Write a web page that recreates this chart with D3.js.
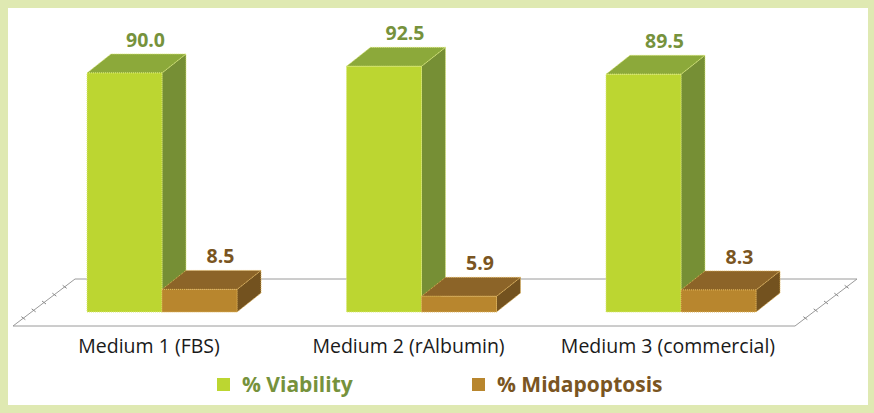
<!DOCTYPE html>
<html>
<head>
<meta charset="utf-8">
<script src="https://cdn.jsdelivr.net/npm/d3@7"></script>
<style>
  html, body { margin: 0; padding: 0; background: #ffffff; }
  svg { display: block; }
</style>
</head>
<body>
<svg id="chart" width="874" height="413"></svg>
<script>
// Culture media compared on viability and mid-apoptosis (%)
const categories = ["Medium 1 (FBS)", "Medium 2 (rAlbumin)", "Medium 3 (commercial)"];
const viability = [90.0, 92.5, 89.5];
const midapoptosis = [8.5, 5.9, 8.3];
const seriesNames = ["% Viability", "% Midapoptosis"];

const palette = {
  viability:   { front: "#bcd631", top: "#8ca93a", side: "#768f35", edge: "#dbe97a", label: "#76923c" },
  midapoptosis:{ front: "#b8862e", top: "#8c6428", side: "#73521f", edge: "#e0b45a", label: "#7a5522" }
};

const W = 874, H = 413;
const svg = d3.select("#chart");

// Outer frame
svg.append("rect").attr("x", 0).attr("y", 0).attr("width", W).attr("height", H).attr("fill", "#dfe9b2");
svg.append("rect").attr("x", 8).attr("y", 8).attr("width", 860).attr("height", 397).attr("fill", "#ffffff");

// Scales
const x = d3.scaleBand().domain(categories).range([32.25, 810.75]).paddingInner(0);
const y = d3.scaleLinear().domain([0, 100]).range([312, 46.4]);
const barW = 75;
const depthX = 24, depthY = 19;

// Floor (3D base plane)
const floorFrontY = y(0) + 14;
const floorL = 13, floorR = 795, floorDX = 62, floorDY = 47;
const floor = svg.append("g").attr("stroke", "#9a9a9a").attr("stroke-width", 1).attr("fill", "none");
floor.append("line").attr("x1", floorL + floorDX).attr("y1", floorFrontY - floorDY)
  .attr("x2", floorR + floorDX).attr("y2", floorFrontY - floorDY);
floor.append("line").attr("x1", floorL).attr("y1", floorFrontY)
  .attr("x2", floorR).attr("y2", floorFrontY);
[floorL, floorR].forEach(x0 => {
  floor.append("line").attr("x1", x0).attr("y1", floorFrontY)
    .attr("x2", x0 + floorDX).attr("y2", floorFrontY - floorDY);
  // depth-axis tick marks along the side edges
  d3.range(1, 6).forEach(i => {
    const t = i / 6;
    const px = x0 + floorDX * t, py = floorFrontY - floorDY * t;
    floor.append("line").attr("x1", px - 2).attr("y1", py - 1.5).attr("x2", px + 2).attr("y2", py + 1.5)
      .attr("stroke", "#8a8a8a");
  });
});

function bar3d(g, x0, value, col) {
  const yb = y(0), yt = y(value), w = barW;
  const edge = sel => sel.attr("stroke", col.edge).attr("stroke-width", 1).attr("stroke-dasharray", "1,1");
  g.append("polygon")
    .attr("points", [[x0 + w, yt], [x0 + w + depthX, yt - depthY], [x0 + w + depthX, yb - depthY], [x0 + w, yb]].join(" "))
    .attr("fill", col.side).call(edge);
  g.append("polygon")
    .attr("points", [[x0, yt], [x0 + depthX, yt - depthY], [x0 + w + depthX, yt - depthY], [x0 + w, yt]].join(" "))
    .attr("fill", col.top).call(edge);
  g.append("rect").attr("x", x0).attr("y", yt).attr("width", w).attr("height", yb - yt)
    .attr("fill", col.front).call(edge);
  g.append("text")
    .attr("x", x0 + w / 2 + 21).attr("y", yt - 26)
    .attr("text-anchor", "middle")
    .attr("font-family", "'Open Sans', sans-serif").attr("font-weight", "bold").attr("font-size", 19.5)
    .attr("fill", col.label)
    .text(value.toFixed(1));
}

const bars = svg.append("g");
categories.forEach((c, i) => {
  const cx = x(c) + x.bandwidth() / 2;
  const g = bars.append("g");
  bar3d(g, cx - barW, viability[i], palette.viability);
  bar3d(g, cx, midapoptosis[i], palette.midapoptosis);
});

// Category labels
svg.append("g").selectAll("text").data(categories).join("text")
  .attr("x", d => x(d) + x.bandwidth() / 2 - 13)
  .attr("y", 353)
  .attr("text-anchor", "middle")
  .attr("font-family", "'Open Sans', sans-serif").attr("font-size", 19.5)
  .attr("fill", "#1a1a1a")
  .text(d => d);

// Legend
const legend = svg.append("g");
const legendItems = [
  { name: seriesNames[0], col: palette.viability, x: 217 },
  { name: seriesNames[1], col: palette.midapoptosis, x: 472 }
];
legendItems.forEach(it => {
  legend.append("rect").attr("x", it.x).attr("y", 378).attr("width", 13).attr("height", 13).attr("fill", it.col.front);
  legend.append("text").attr("x", it.x + 25).attr("y", 392)
    .attr("font-family", "'Open Sans', sans-serif").attr("font-weight", "bold").attr("font-size", 21)
    .attr("fill", it.col.label).text(it.name);
});
</script>
</body>
</html>
